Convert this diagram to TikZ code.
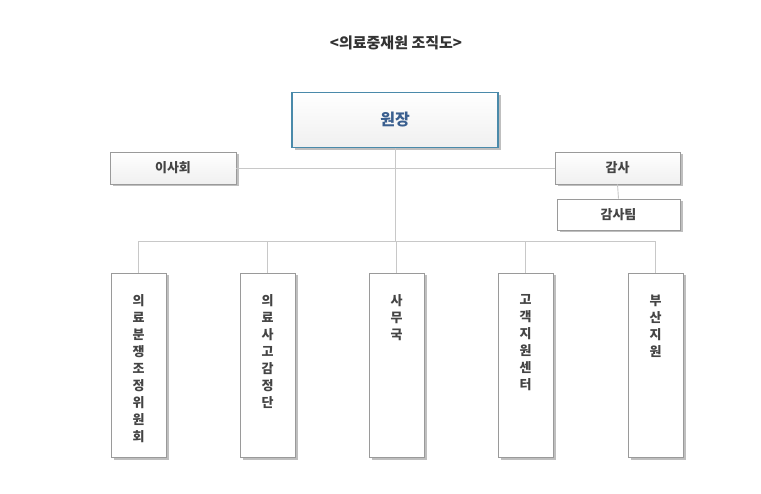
\documentclass[tikz,border=0pt]{standalone}
\usepackage{fontspec}
\newfontfamily\kr{Noto Sans CJK KR}
\usetikzlibrary{shadows}
\definecolor{bordergray}{HTML}{9A9A9A}
\definecolor{linegray}{HTML}{C8C8C8}
\definecolor{txtgray}{HTML}{444444}
\definecolor{headblue}{HTML}{4A8AAA}
\definecolor{headtxt}{HTML}{3A5F8F}
\begin{document}
\begin{tikzpicture}[x=1pt,y=-1pt,
  box/.style={draw=bordergray, line width=0.8pt, top color=white, bottom color=black!6,
    drop shadow={shadow xshift=2.5pt, shadow yshift=-2.5pt, fill=black!25, opacity=1},
    font=\kr\bfseries\fontsize{13}{17}\selectfont, text=txtgray, inner sep=0pt},
  vbox/.style={draw=bordergray, line width=0.8pt, fill=white,
    drop shadow={shadow xshift=2.5pt, shadow yshift=-2.5pt, fill=black!25, opacity=1}},
  vtxt/.style={font=\kr\bfseries\fontsize{13}{17}\selectfont, text=txtgray, align=center, anchor=north, inner sep=0pt},
  conn/.style={draw=linegray, line width=0.9pt}]
\useasboundingbox (0,0) rectangle (761,494);
\node[font=\kr\bfseries\fontsize{15}{18}\selectfont, text=black!80] (title) at (396,43) {<의료중재원 조직도>};
% head
\node[box, draw=headblue, line width=1.8pt, minimum width=206pt, minimum height=55pt, text=headtxt,
  font=\kr\bfseries\fontsize{16}{20}\selectfont] (head) at (395,120) {원장};
\node[box, minimum width=126pt, minimum height=32pt] (board) at (173,168) {이사회};
\node[box, minimum width=125pt, minimum height=32pt] (audit) at (617.5,168) {감사};
\node[box, minimum width=123pt, minimum height=31pt, top color=white, bottom color=white] (team) at (618.5,214.5) {감사팀};
% bottom boxes
\foreach \n/\x in {b1/138.5, b2/267.5, b3/396.5, b4/525.5, b5/655.5}{
  \node[vbox, minimum width=55pt, minimum height=184pt] (\n) at (\x,365) {};
}
\node[vtxt] (t1) at (138.5,294.5) {의\\료\\분\\쟁\\조\\정\\위\\원\\회};
\node[vtxt] (t2) at (267.5,294.5) {의\\료\\사\\고\\감\\정\\단};
\node[vtxt] (t3) at (396.5,294.5) {사\\무\\국};
\node[vtxt] (t4) at (525.5,294.5) {고\\객\\지\\원\\센\\터};
\node[vtxt] (t5) at (655.5,294.5) {부\\산\\지\\원};
% connectors
\coordinate (hub) at (395,241);
\draw[conn] (board.east) -- (audit.west);
\draw[conn] (head.south) -- (hub);
\draw[conn] (audit.south) -- (team.north);
\draw[conn] (b1.north) -- (b1.north |- hub) -- (b5.north |- hub) -- (b5.north);
\draw[conn] (b2.north) -- (b2.north |- hub);
\draw[conn] (b3.north) -- (b3.north |- hub);
\draw[conn] (b4.north) -- (b4.north |- hub);
\end{tikzpicture}
\end{document}
